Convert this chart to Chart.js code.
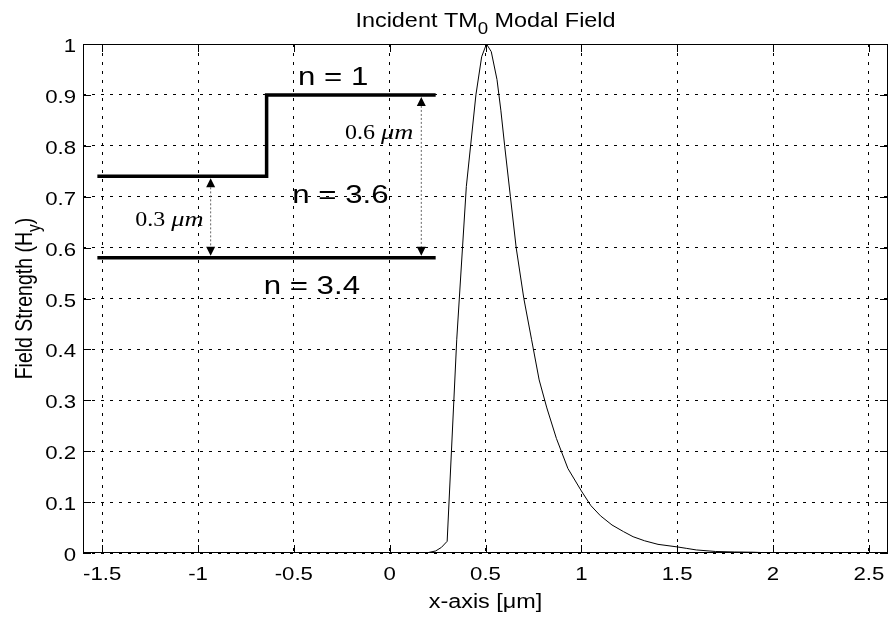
<!DOCTYPE html>
<html>
<head>
<meta charset="utf-8">
<script src="https://cdn.jsdelivr.net/npm/chart.js@4"></script>
<style>html, body { margin: 0; padding: 0; background: #fff; }</style>
</head>
<body>
<canvas id="field" width="890" height="623"></canvas>
<script>
"use strict";

// TM0 field profile
const fieldX = [0.15, 0.19, 0.24, 0.27, 0.30, 0.35, 0.40, 0.45, 0.48, 0.505, 0.53, 0.56, 0.58, 0.60, 0.63, 0.66, 0.70, 0.74, 0.78, 0.82, 0.87, 0.93, 1.00, 1.05, 1.10, 1.16, 1.22, 1.27, 1.33, 1.40, 1.50, 1.55, 1.60, 1.70, 1.80, 1.90, 2.00];
const fieldY = [0, 0, 0.004, 0.011, 0.023, 0.42, 0.72, 0.90, 0.975, 1.0, 0.985, 0.93, 0.87, 0.80, 0.70, 0.60, 0.50, 0.42, 0.34, 0.285, 0.225, 0.166, 0.122, 0.093, 0.073, 0.055, 0.042, 0.032, 0.024, 0.017, 0.012, 0.009, 0.006, 0.003, 0.002, 0.0015, 0];

const xTicks = [-1.5, -1, -0.5, 0, 0.5, 1, 1.5, 2, 2.5];
const xTickLabels = ['-1.5', '-1', '-0.5', '0', '0.5', '1', '1.5', '2', '2.5'];
const yTicks = [0, 0.1, 0.2, 0.3, 0.4, 0.5, 0.6, 0.7, 0.8, 0.9, 1];
const yTickLabels = ['0', '0.1', '0.2', '0.3', '0.4', '0.5', '0.6', '0.7', '0.8', '0.9', '1'];

// waveguide sketch drawn in plot units
const stepX = [-1.525, -0.642, -0.642, 0.24];
const stepY = [0.74, 0.74, 0.9, 0.9];
const baseX = [-1.525, 0.24];
const baseY = [0.58, 0.58];
const arrowX = [-0.934, 0.165];
const arrowTop = [0.74, 0.9];
const arrowBottom = [0.58, 0.58];

const notes = [
    { parts: [{ t: 'n = 1' }], x: -0.295, y: 0.920, size: 26, align: 'center' },
    { parts: [{ t: 'n = 3.6' }], x: -0.257, y: 0.687, size: 26, align: 'center' },
    { parts: [{ t: 'n = 3.4' }], x: -0.406, y: 0.508, size: 26, align: 'center' },
    { parts: [{ t: '0.6 ', serif: true }, { t: '\u03bcm', serif: true, italic: true, scale: 1.1 }], x: 0.124, y: 0.814, size: 20, align: 'right' },
    { parts: [{ t: '0.3 ', serif: true }, { t: '\u03bcm', serif: true, italic: true, scale: 1.1 }], x: -0.971, y: 0.642, size: 20, align: 'right' }
];

const STRETCH = 1.2; // the matlab text is a bit wider than plain arial
const SANS = '"Liberation Sans", Arial, sans-serif';
const SERIF = '"Liberation Serif", "Times New Roman", serif';

const toPoints = (xs, ys) => xs.map((x, i) => ({ x: x, y: ys[i] }));

const fontOf = (p, size) => {
    let s = size * (p.scale || 1);
    if (p.sub) s = size * 0.8;
    return (p.italic ? 'italic ' : '') + s + 'px ' + (p.serif ? SERIF : SANS);
};

// draws a run of text pieces (with subscripts), stretched horizontally
const drawRich = (ctx, parts, x, y, size, align, rotate) => {
    ctx.save();
    const widths = parts.map(p => { ctx.font = fontOf(p, size); return ctx.measureText(p.t).width; });
    const total = widths.reduce((a, b) => a + b, 0);
    ctx.translate(x, y);
    if (rotate) {
        ctx.rotate(-Math.PI / 2);
        ctx.scale(1, STRETCH);
    } else {
        ctx.scale(STRETCH, 1);
    }
    let cx = align === 'center' ? -total / 2 : align === 'right' ? -total : 0;
    ctx.fillStyle = '#000';
    ctx.textAlign = 'left';
    ctx.textBaseline = 'alphabetic';
    parts.forEach((p, i) => {
        ctx.font = fontOf(p, size);
        ctx.fillText(p.t, cx, p.sub ? size * 0.35 : 0);
        cx += widths[i];
    });
    ctx.restore();
};

const decorations = {
    id: 'decorations',
    afterDraw: (chart) => {
        const ctx = chart.ctx;
        const area = chart.chartArea;
        const xs = chart.scales.x;
        const ys = chart.scales.y;

        // axes box
        ctx.save();
        ctx.strokeStyle = '#000';
        ctx.lineWidth = 1;
        ctx.strokeRect(area.left + 0.5, area.top + 0.5, area.right - area.left - 1, area.bottom - area.top - 1);

        // inward tick marks on all four sides
        const tl = 8;
        ctx.beginPath();
        xTicks.forEach(v => {
            const px = Math.round(xs.getPixelForValue(v)) + 0.5;
            ctx.moveTo(px, area.bottom); ctx.lineTo(px, area.bottom - tl);
            ctx.moveTo(px, area.top); ctx.lineTo(px, area.top + tl);
        });
        yTicks.forEach(v => {
            const py = Math.round(ys.getPixelForValue(v)) + 0.5;
            ctx.moveTo(area.left, py); ctx.lineTo(area.left + tl, py);
            ctx.moveTo(area.right, py); ctx.lineTo(area.right - tl, py);
        });
        ctx.stroke();

        // double headed dimension arrows
        arrowX.forEach((ax, i) => {
            const px = xs.getPixelForValue(ax);
            const top = ys.getPixelForValue(arrowTop[i]) + 2;
            const bot = ys.getPixelForValue(arrowBottom[i]) - 2;
            const h = 9, w = 4.5;
            ctx.strokeStyle = '#666';
            ctx.setLineDash([2, 2]);
            ctx.beginPath();
            ctx.moveTo(px, top + h); ctx.lineTo(px, bot - h);
            ctx.stroke();
            ctx.setLineDash([]);
            ctx.fillStyle = '#000';
            ctx.beginPath();
            ctx.moveTo(px, top); ctx.lineTo(px - w, top + h); ctx.lineTo(px + w, top + h); ctx.closePath();
            ctx.moveTo(px, bot); ctx.lineTo(px - w, bot - h); ctx.lineTo(px + w, bot - h); ctx.closePath();
            ctx.fill();
        });
        ctx.restore();

        // tick labels
        xTicks.forEach((v, i) => {
            drawRich(ctx, [{ t: xTickLabels[i] }], xs.getPixelForValue(v), area.bottom + 27, 18.5, 'center');
        });
        yTicks.forEach((v, i) => {
            drawRich(ctx, [{ t: yTickLabels[i] }], area.left - 7, ys.getPixelForValue(v) + 8, 18.5, 'right');
        });

        // titles
        const midX = (area.left + area.right) / 2;
        const midY = (area.top + area.bottom) / 2;
        drawRich(ctx, [{ t: 'Incident TM' }, { t: '0', sub: true }, { t: ' Modal Field' }], midX, 27, 19.5, 'center');
        drawRich(ctx, [{ t: 'x-axis [\u03bcm]' }], midX, 608, 19.5, 'center');
        drawRich(ctx, [{ t: 'Field Strength (H' }, { t: 'y', sub: true }, { t: ')' }], 32, midY, 19.5, 'center', true);

        // refractive index notes
        notes.forEach(n => {
            drawRich(ctx, n.parts, xs.getPixelForValue(n.x), ys.getPixelForValue(n.y), n.size, n.align);
        });
    }
};

document.addEventListener('DOMContentLoaded', () => {
    const ctx = document.getElementById('field').getContext('2d');
    new Chart(ctx, {
        type: 'line',
        data: {
            datasets: [
                {
                    label: 'Hy',
                    data: toPoints(fieldX, fieldY),
                    borderColor: '#000',
                    borderWidth: 1,
                    pointRadius: 0,
                    tension: 0
                },
                {
                    label: 'step',
                    data: toPoints(stepX, stepY),
                    borderColor: '#000',
                    borderWidth: 3.5,
                    pointRadius: 0,
                    tension: 0,
                    borderJoinStyle: 'miter'
                },
                {
                    label: 'base',
                    data: toPoints(baseX, baseY),
                    borderColor: '#000',
                    borderWidth: 3.5,
                    pointRadius: 0,
                    tension: 0
                }
            ]
        },
        options: {
            responsive: false,
            animation: false,
            devicePixelRatio: 1,
            events: [],
            layout: { padding: { left: 83, right: 2, top: 44, bottom: 70 } },
            plugins: { legend: { display: false }, tooltip: { enabled: false } },
            scales: {
                x: {
                    type: 'linear',
                    min: -1.6,
                    max: 2.6,
                    afterBuildTicks: (axis) => { axis.ticks = xTicks.map(v => ({ value: v })); },
                    ticks: { display: false },
                    grid: { color: '#000', lineWidth: 1, drawTicks: false },
                    border: { display: false, dash: [3, 6] }
                },
                y: {
                    type: 'linear',
                    min: 0,
                    max: 1,
                    afterBuildTicks: (axis) => { axis.ticks = yTicks.map(v => ({ value: v })); },
                    ticks: { display: false },
                    grid: { color: '#000', lineWidth: 1, drawTicks: false },
                    border: { display: false, dash: [3, 6] }
                }
            }
        },
        plugins: [decorations]
    });
});
</script>
</body>
</html>
